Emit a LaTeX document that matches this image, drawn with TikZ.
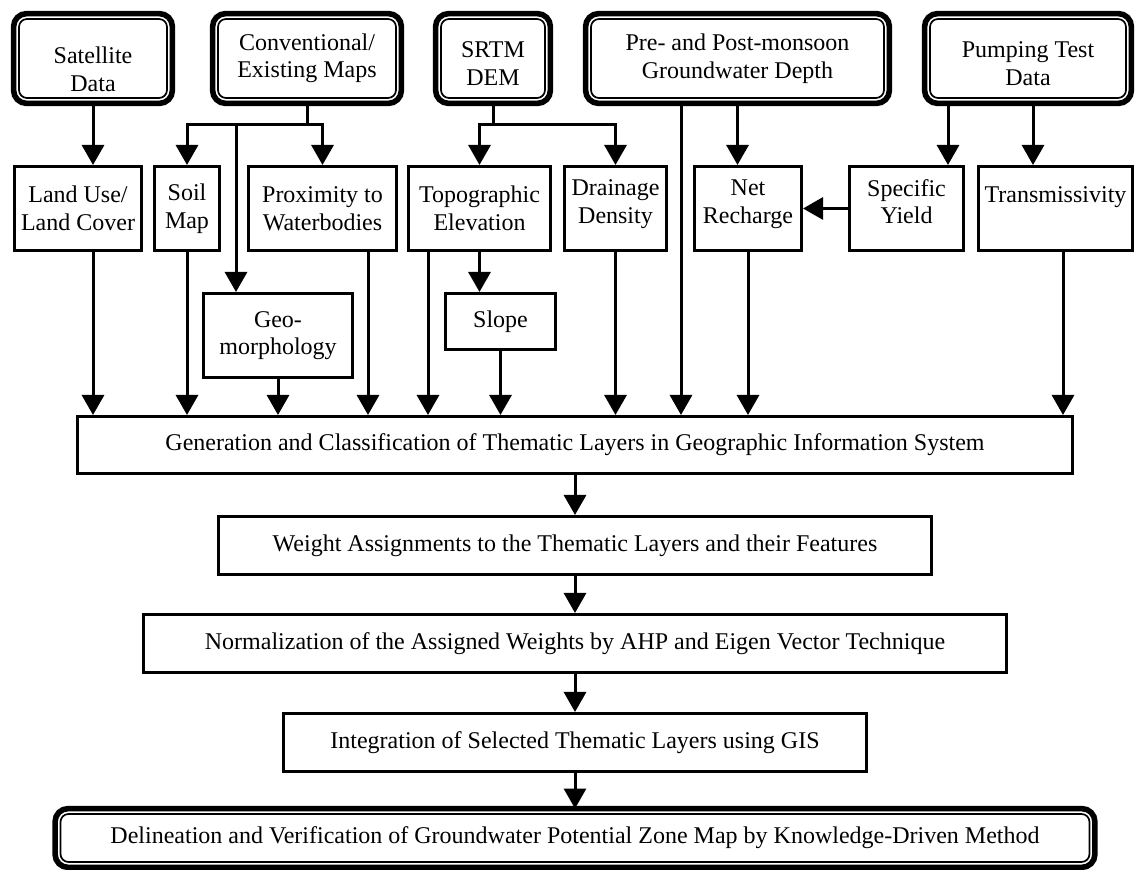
\documentclass[tikz,border=0pt]{standalone}
\usepackage{fontspec}
\setmainfont{Liberation Serif}
\usepackage{tikz}
\usetikzlibrary{arrows.meta,positioning,calc}
\tikzset{
	>={Triangle[length=10pt,width=11pt]},
	srcbox/.style={
		rectangle,
		draw,
		line width=0.85pt,
		rounded corners=4pt,
		align=center,
		inner sep=1pt,
		outer sep=2.7pt
	},
	dblframe/.style={
		line width=2.8pt,
		rounded corners=6.5pt
	},
	stepbox/.style={
		rectangle,
		draw,
		line width=1.5pt,
		align=center,
		inner sep=1pt
	},
	flow/.style={
		->,
		line width=1.5pt
	},
	link/.style={
		line width=1.5pt
	}
}

\begin{document}
\begin{tikzpicture}[
	x=0.5pt, y=-0.5pt,
	every node/.style={font=\fontsize{12}{13.75}\selectfont}
	]
	\useasboundingbox (0,0) rectangle (1137,870);
	
	%--------------------
	% Data sources
	%--------------------
	\node[srcbox, minimum width=74pt, minimum height=39.5pt, text height=33pt] (sat) at (93,58.5) {Satellite\\Data};
	\node[srcbox, minimum width=89pt, minimum height=39.5pt] (conv) at (307,58.5) {Conventional/\\Existing Maps};
	\node[srcbox, minimum width=52pt, minimum height=39.5pt, text height=27pt] (srtm) at (493,58.5) {SRTM\\DEM};
	\node[srcbox, minimum width=146.5pt, minimum height=39.5pt] (gwd) at (737.5,58.5) {Pre- and Post-monsoon\\Groundwater Depth};
	\node[srcbox, minimum width=98pt, minimum height=39.5pt, text height=27pt] (pump) at (1028,58.5) {Pumping Test\\Data};
	
	%--------------------
	% Thematic layers
	%--------------------
	\node[stepbox, minimum width=63.5pt, minimum height=42pt] (lulc) at (78,208.5) {Land Use/\\Land Cover};
	\node[stepbox, minimum width=32.5pt, minimum height=42pt] (soil) at (187,208.5) {Soil\\Map};
	\node[stepbox, minimum width=74pt, minimum height=42pt] (prox) at (322.5,208.5) {Proximity to\\Waterbodies};
	\node[stepbox, minimum width=71pt, minimum height=42pt] (topo) at (479.5,208.5) {Topographic\\Elevation};
	\node[stepbox, minimum width=51pt, minimum height=42pt, text depth=7pt] (drain) at (615.5,208.5) {Drainage\\Density};
	\node[stepbox, minimum width=53.5pt, minimum height=42pt, text depth=7pt] (net) at (748,208.5) {Net\\Recharge};
	\node[stepbox, minimum width=57pt, minimum height=42pt, text depth=7pt] (spy) at (906.5,208.5) {Specific\\Yield};
	\node[stepbox, minimum width=77pt, minimum height=42pt, text depth=14pt] (trans) at (1055.5,208.5) {Transmissivity};
	
	\node[stepbox, minimum width=74.5pt, minimum height=42pt] (geo) at (278,335.5) {Geo-\\morphology};
	\node[stepbox, minimum width=55pt, minimum height=28pt] (slope) at (500.5,321.5) {Slope};
	
	%--------------------
	% Processing steps
	%--------------------
	\node[stepbox, minimum width=497.5pt, minimum height=28.5pt] (gen) at (575,445) {Generation and Classification of Thematic Layers in Geographic Information System};
	\node[stepbox, minimum width=356.5pt, minimum height=29pt] (weight) at (575,545.5) {Weight Assignments to the Thematic Layers and their Features};
	\node[stepbox, minimum width=431.5pt, minimum height=29pt] (norm) at (575,643.5) {Normalization of the Assigned Weights by AHP and Eigen Vector Technique};
	\node[stepbox, minimum width=291.5pt, minimum height=29pt] (integ) at (575,742.5) {Integration of Selected Thematic Layers using GIS};
	\node[srcbox, minimum width=514.5pt, minimum height=24pt] (final) at (575,838) {Delineation and Verification of Groundwater Potential Zone Map by Knowledge-Driven Method};
	
	% outer frames of the source boxes
	\foreach \n in {sat,conv,srtm,gwd,pump,final}
	\draw[dblframe] (\n.north west) rectangle (\n.south east);
	
	%--------------------
	% Connections: sources -> layers
	%--------------------
	\coordinate (convsplit) at (307,125);
	\coordinate (geotap) at (236,125);
	\coordinate (srtmsplit) at (493,125);
	
	\draw[flow] (sat) -- (sat |- lulc.north);
	\draw[link] (conv) -- (convsplit);
	\draw[flow] (convsplit) -| (soil);
	\draw[flow] (convsplit) -| (prox);
	\draw[flow] (geotap) -- (geotap |- geo.north);
	
	\draw[link] (srtm) -- (srtmsplit);
	\draw[flow] (srtmsplit) -| (topo);
	\draw[flow] (srtmsplit) -| (drain);
	\draw[flow] (topo) -- (topo |- slope.north);
	
	\draw[flow] (gwd) -- (gwd |- net.north);
	\draw[flow] ([xshift=-40pt]pump.south) -- ([xshift=-40pt]pump.south |- spy.north);
	\draw[flow] ([xshift=2.5pt]pump.south) -- ([xshift=2.5pt]pump.south |- trans.north);
	\draw[flow] (spy) -- (net);
	
	%--------------------
	% Connections: layers -> GIS
	%--------------------
	\draw[flow] (sat |- lulc.south) -- (sat |- gen.north);
	\foreach \n in {soil,geo,slope,drain,net}
	\draw[flow] (\n) -- (\n |- gen.north);
	\draw[flow] ([xshift=22.75pt]prox.south) -- ([xshift=22.75pt]prox.south |- gen.north);
	\draw[flow] ([xshift=-25.75pt]topo.south) -- ([xshift=-25.75pt]topo.south |- gen.north);
	\draw[flow] ([xshift=-28.25pt]gwd.south) -- ([xshift=-28.25pt]gwd.south |- gen.north);
	\draw[flow] ([xshift=3.75pt]trans.south) -- ([xshift=3.75pt]trans.south |- gen.north);
	
	%--------------------
	% Connections: processing chain
	%--------------------
	\draw[flow] (gen) -- (weight);
	\draw[flow] (weight) -- (norm);
	\draw[flow] (norm) -- (integ);
	\draw[flow] (integ) -- (final);
	
\end{tikzpicture}
\end{document}
